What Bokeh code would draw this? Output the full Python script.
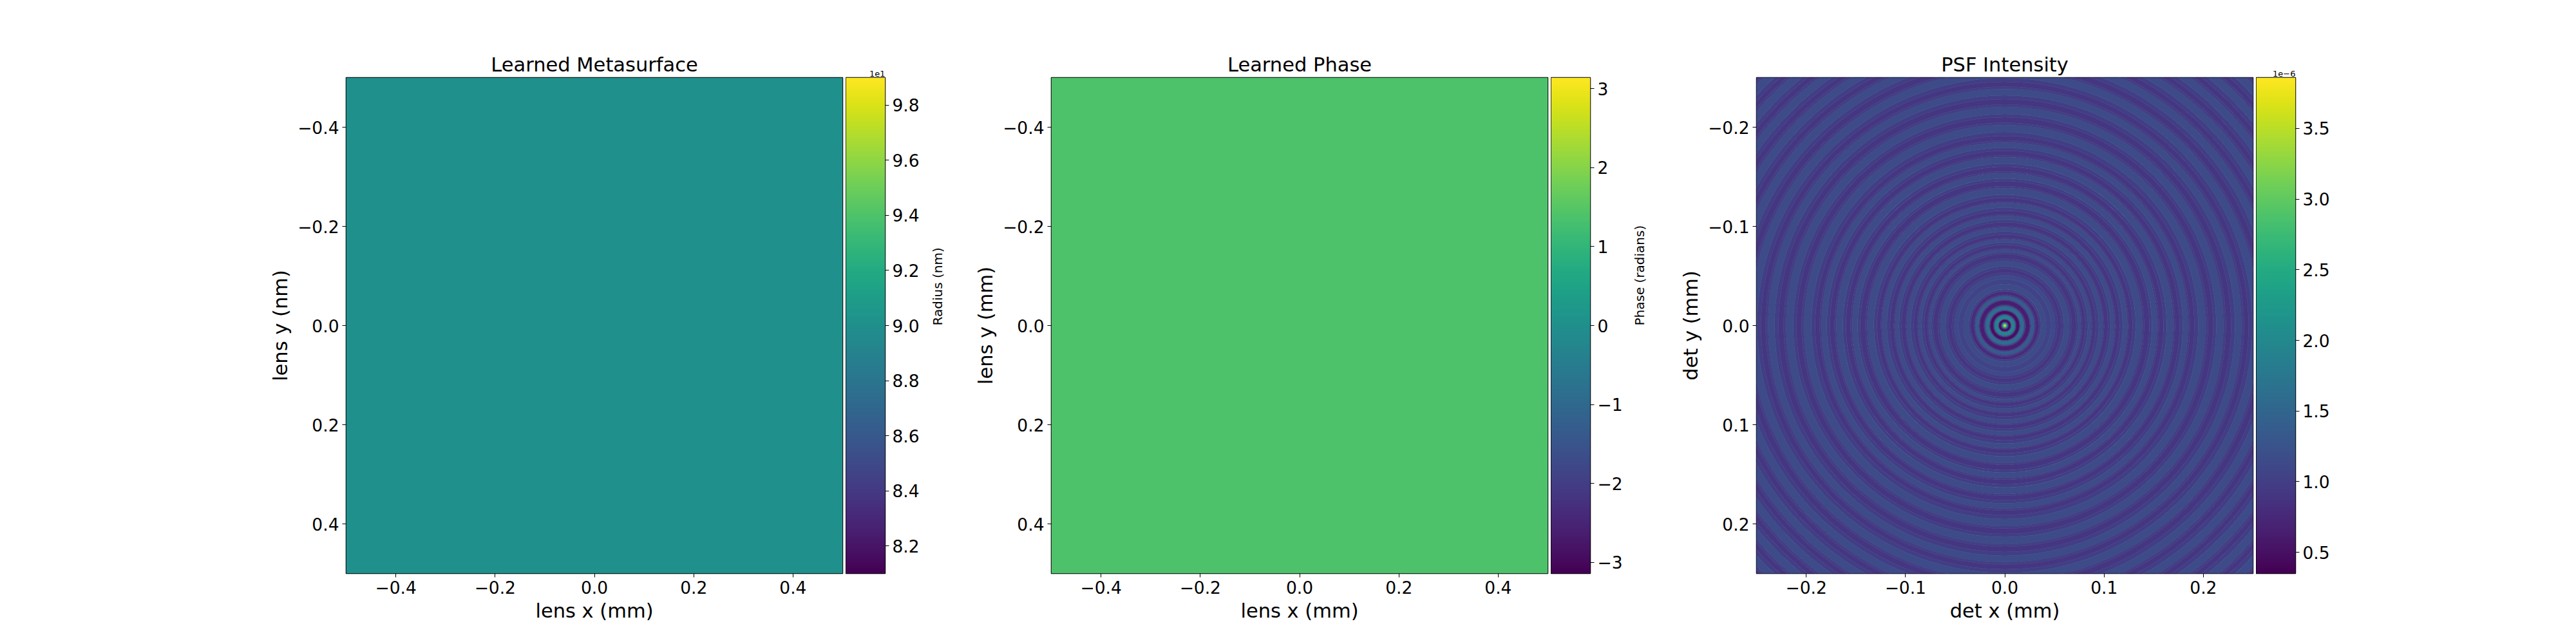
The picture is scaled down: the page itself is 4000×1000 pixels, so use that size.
import numpy as np
from bokeh.plotting import figure
from bokeh.layouts import row
from bokeh.models import Range1d, LinearColorMapper, FixedTicker, Title, ColumnDataSource
from bokeh.palettes import Viridis256
from bokeh.embed import file_html
from bokeh.resources import INLINE

FONT = "DejaVu Sans"

# ---- data ----
lens_extent_mm = [-0.5, 0.5]
det_extent_mm = [-0.25, 0.25]

metasurface_radius_nm = 90.0          # constant learned pillar radius
radius_range_nm = [81.0, 99.0]

learned_phase_rad = 1.38              # constant learned phase
phase_range_rad = [-np.pi, np.pi]

psf_range_e6 = [0.35, 3.86]           # intensity, units of 1e-6
# concentric rings of the PSF: outer radius (um) and intensity (1e-6) of each band
psf_ring_outer_um = [
    1.0, 1.9, 2.9, 3.9, 6.2, 7.1, 10.4, 11.7, 14.9, 16.2, 19.5, 21.1,
    25.3, 26.6, 29.9, 31.2, 34.4, 36.4, 41.6, 46.8, 50.7, 53.3,
    57.1, 59.7, 64.9, 67.5, 72.1, 74.0, 76.6, 77.9,
    81.2, 83.8, 87.0, 88.3, 91.6, 94.8, 98.7, 100.0,
    103.9, 106.5, 110.4, 111.7, 115.6, 118.8, 123.4, 124.7,
    128.6, 131.8, 138.3, 140.3, 145.5, 148.1, 153.3, 155.2,
    159.8, 163.0, 169.5, 171.4, 176.0, 179.2, 184.4, 186.4,
    190.9, 194.8, 202.0, 204.6, 209.8, 213.0, 220.1, 222.7,
    227.9, 231.8, 238.3, 240.9, 245.5, 249.4, 256.5, 259.1,
    264.3, 268.2, 275.3, 277.9, 282.5, 286.4, 293.5, 296.1,
    300.7, 304.6, 311.7, 314.3, 318.9, 322.7, 329.9, 332.5,
    337.0, 340.9, 348.1, 350.6, 355.2, 363.6,
]
psf_ring_value_e6 = [
    3.80, 3.10, 2.10, 1.10, 0.45, 1.20, 1.90, 1.20, 0.50, 1.10, 1.60, 1.10,
    0.65, 1.00, 1.35, 1.00, 0.80, 1.00, 1.15, 1.05, 1.12, 1.00,
    0.90, 1.00, 1.15, 1.02, 0.90, 1.00, 1.15, 1.02,
    0.90, 1.00, 1.15, 1.02, 0.90, 1.00, 1.15, 1.02,
    0.90, 1.00, 1.15, 1.02, 0.90, 1.00, 1.15, 1.02,
    0.90, 1.00, 1.15, 1.02, 0.90, 1.00, 1.15, 1.02,
    0.90, 1.00, 1.15, 1.02, 0.90, 1.00, 1.15, 1.02,
    0.90, 1.00, 1.15, 1.02, 0.90, 1.00, 1.15, 1.02,
    0.90, 1.00, 1.15, 1.02, 0.90, 1.00, 1.15, 1.02,
    0.90, 1.00, 1.15, 1.02, 0.90, 1.00, 1.15, 1.02,
    0.90, 1.00, 1.15, 1.02, 0.90, 1.00, 1.15, 1.02,
    0.90, 1.00, 1.15, 1.02, 0.90, 1.00,
]

lens_ticks = [-0.4, -0.2, 0.0, 0.2, 0.4]
lens_tick_labels = ["\u22120.4", "\u22120.2", "0.0", "0.2", "0.4"]
det_ticks = [-0.2, -0.1, 0.0, 0.1, 0.2]
det_tick_labels = ["\u22120.2", "\u22120.1", "0.0", "0.1", "0.2"]
radius_ticks = [82, 84, 86, 88, 90, 92, 94, 96, 98]
radius_tick_labels = ["8.2", "8.4", "8.6", "8.8", "9.0", "9.2", "9.4", "9.6", "9.8"]
phase_ticks = [-3, -2, -1, 0, 1, 2, 3]
phase_tick_labels = ["\u22123", "\u22122", "\u22121", "0", "1", "2", "3"]
psf_ticks = [0.5, 1.0, 1.5, 2.0, 2.5, 3.0, 3.5]
psf_tick_labels = ["0.5", "1.0", "1.5", "2.0", "2.5", "3.0", "3.5"]

TOP = 120
BOTTOM = 95


def style_axis(ax, ticks, labels):
    ax.ticker = FixedTicker(ticks=ticks)
    ax.major_label_overrides = dict(zip(ticks, labels))
    ax.axis_line_color = None
    ax.major_tick_in = 0
    ax.major_tick_out = 6
    ax.major_tick_line_color = "black"
    ax.minor_tick_line_color = None
    ax.major_label_text_font = FONT
    ax.major_label_text_font_size = "26.5px"
    ax.major_label_text_color = "black"
    ax.major_label_standoff = 5
    ax.axis_label_text_font = FONT
    ax.axis_label_text_font_size = "30.5px"
    ax.axis_label_text_font_style = "normal"
    ax.axis_label_text_color = "black"


def panel(title, xlabel, ylabel, extent, ticks, labels, left_border):
    p = figure(frame_width=771, frame_height=770,
               x_range=Range1d(extent[0], extent[1]),
               y_range=Range1d(extent[1], extent[0]),
               min_border_left=left_border, min_border_right=5,
               min_border_top=TOP, min_border_bottom=BOTTOM,
               output_backend="svg", toolbar_location=None)
    p.title.text = title
    p.title.align = "center"
    p.title.text_font = FONT
    p.title.text_font_size = "30.5px"
    p.title.text_font_style = "normal"
    p.title.text_color = "black"
    p.title.standoff = 5
    p.grid.visible = False
    p.outline_line_color = "black"
    p.outline_line_width = 1.5
    p.xaxis.axis_label = xlabel
    p.yaxis.axis_label = ylabel
    style_axis(p.xaxis[0], ticks, labels)
    style_axis(p.yaxis[0], ticks, labels)
    p.xaxis.axis_label_standoff = 6
    p.yaxis.axis_label_standoff = 6
    return p


def colorbar(low, high, ticks, labels, offset_text, label_text, label_standoff, right_border):
    mapper = LinearColorMapper(palette=Viridis256, low=low, high=high)
    cb = figure(frame_width=61, frame_height=770,
                x_range=Range1d(0, 1), y_range=Range1d(low, high),
                x_axis_location=None, y_axis_location="right",
                min_border_left=0, min_border_right=right_border,
                min_border_top=TOP, min_border_bottom=BOTTOM,
                output_backend="svg", toolbar_location=None)
    cb.image(image=[np.linspace(low, high, 256).reshape(-1, 1)], x=0, y=low,
             dw=1, dh=high - low, color_mapper=mapper)
    cb.grid.visible = False
    cb.outline_line_color = "black"
    cb.outline_line_width = 1.5
    ax = cb.yaxis[0]
    style_axis(ax, ticks, labels)
    if offset_text:
        cb.add_layout(Title(text=offset_text, align="right", text_font=FONT,
                            text_font_size="13px", text_font_style="normal",
                            text_color="black", standoff=3), "above")
    if label_text:
        ax.axis_label = label_text
        ax.axis_label_text_font_size = "20px"
        ax.axis_label_standoff = label_standoff
        if hasattr(ax, "axis_label_orientation"):
            ax.axis_label_orientation = np.pi / 2   # read bottom to top
    return cb, mapper


# ---- Learned Metasurface ----
p1 = panel("Learned Metasurface", "lens x (mm)", "lens y (nm)",
           lens_extent_mm, lens_ticks, lens_tick_labels, 537)
cb1, radius_mapper = colorbar(radius_range_nm[0], radius_range_nm[1], radius_ticks,
                              radius_tick_labels, "1e1", "Radius (nm)", 25, 126)
p1.image(image=[np.array([[metasurface_radius_nm]])], x=lens_extent_mm[0], y=lens_extent_mm[0],
         dw=lens_extent_mm[1] - lens_extent_mm[0], dh=lens_extent_mm[1] - lens_extent_mm[0],
         color_mapper=radius_mapper)

# ---- Learned Phase ----
p2 = panel("Learned Phase", "lens x (mm)", "lens y (mm)",
           lens_extent_mm, lens_ticks, lens_tick_labels, 132)
cb2, phase_mapper = colorbar(phase_range_rad[0], phase_range_rad[1], phase_ticks,
                             phase_tick_labels, "", "Phase (radians)", 23, 126)
p2.image(image=[np.array([[learned_phase_rad]])], x=lens_extent_mm[0], y=lens_extent_mm[0],
         dw=lens_extent_mm[1] - lens_extent_mm[0], dh=lens_extent_mm[1] - lens_extent_mm[0],
         color_mapper=phase_mapper)

# ---- PSF Intensity ----
p3 = panel("PSF Intensity", "det x (mm)", "det y (mm)",
           det_extent_mm, det_ticks, det_tick_labels, 132)
cb3, psf_mapper = colorbar(psf_range_e6[0], psf_range_e6[1], psf_ticks,
                           psf_tick_labels, "1e\u22126", "", 0, 80)
outer_mm = [r / 1000.0 for r in psf_ring_outer_um]
inner_mm = [0.0] + outer_mm[:-1]
rings = ColumnDataSource(dict(inner=inner_mm, outer=outer_mm, value=psf_ring_value_e6))
p3.annulus(x=0, y=0, inner_radius="inner", outer_radius="outer", source=rings,
           fill_color={"field": "value", "transform": psf_mapper},
           line_color={"field": "value", "transform": psf_mapper}, line_width=0.6)

layout = row(p1, cb1, p2, cb2, p3, cb3)
open("out.html", "w").write(file_html(layout, INLINE))
